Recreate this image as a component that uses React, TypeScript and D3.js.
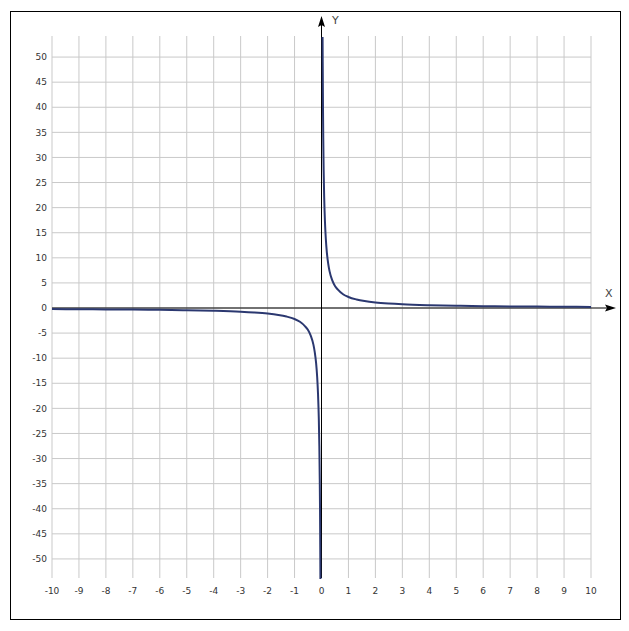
import React from "react";
import * as d3 from "d3";

const xTicks = [-10, -9, -8, -7, -6, -5, -4, -3, -2, -1, 0, 1, 2, 3, 4, 5, 6, 7, 8, 9, 10];
const yTicks = [-50, -45, -40, -35, -30, -25, -20, -15, -10, -5, 0, 5, 10, 15, 20, 25, 30, 35, 40, 45, 50];

// branch for x > 0
const posX = [0.04, 0.045, 0.055, 0.065, 0.08, 0.1, 0.13, 0.16, 0.2, 0.25, 0.3, 0.4, 0.5, 0.6, 0.8, 1, 1.3, 1.6, 2, 2.5, 3, 4, 5, 6, 7, 8, 9, 10];
const posY = [54, 49, 40, 34, 27.5, 22, 17, 13.8, 11, 8.8, 7.3, 5.5, 4.4, 3.7, 2.75, 2.2, 1.7, 1.38, 1.1, 0.88, 0.73, 0.55, 0.44, 0.37, 0.31, 0.28, 0.24, 0.22];
// branch for x < 0
const negX = [-10, -9, -8, -7, -6, -5, -4, -3, -2.5, -2, -1.6, -1.3, -1, -0.8, -0.6, -0.5, -0.4, -0.3, -0.25, -0.2, -0.16, -0.13, -0.1, -0.08, -0.065, -0.055, -0.045, -0.04];
const negY = [-0.22, -0.24, -0.28, -0.31, -0.37, -0.44, -0.55, -0.73, -0.88, -1.1, -1.38, -1.7, -2.2, -2.75, -3.7, -4.4, -5.5, -7.3, -8.8, -11, -13.8, -17, -22, -27.5, -34, -40, -49, -54];

export default function App() {
  const W = 629, H = 631;
  const x = d3.scaleLinear().domain([-10, 10]).range([52, 591]);
  const y = d3.scaleLinear().domain([-54, 54]).range([579, 37]);
  const line = d3
    .line<[number, number]>()
    .x((d) => x(d[0]))
    .y((d) => y(d[1]))
    .curve(d3.curveMonotoneX);
  const pos = posX.map((v, i) => [v, posY[i]] as [number, number]);
  const neg = negX.map((v, i) => [v, negY[i]] as [number, number]);
  const x0 = x(0), y0 = y(0);
  const font = "'DejaVu Sans', Verdana, sans-serif";
  const gridTop = 36, gridBottom = 578;
  return (
    <svg width={W} height={H} style={{ position: "absolute", left: 0, top: 0, background: "#fff" }}>
      <rect x={10.5} y={11.5} width={610} height={608} fill="#fff" stroke="#000" strokeWidth={1} />
      {xTicks.map((t) => (
        <line key={"gx" + t} x1={x(t)} x2={x(t)} y1={gridTop} y2={gridBottom} stroke="#c9c9c9" strokeWidth={1} />
      ))}
      {yTicks.map((t) => (
        <line key={"gy" + t} x1={x(-10)} x2={x(10)} y1={y(t)} y2={y(t)} stroke="#c9c9c9" strokeWidth={1} />
      ))}
      {/* axes */}
      <line x1={x(-10)} x2={608} y1={y0} y2={y0} stroke="#000" strokeWidth={1} />
      <path d={`M${616},${y0} L${605},${y0 - 3.5} L${607},${y0} L${605},${y0 + 3.5} Z`} fill="#000" />
      <line x1={x0} x2={x0} y1={gridBottom} y2={25} stroke="#000" strokeWidth={1} />
      <path d={`M${x0},${16} L${x0 - 3.5},${27} L${x0},${25} L${x0 + 3.5},${27} Z`} fill="#000" />
      <text x={332} y={24} fontFamily={font} fontSize={11} fill="#444">Y</text>
      <text x={605} y={297} fontFamily={font} fontSize={11} fill="#444">X</text>
      {/* curve */}
      <path d={line(neg) || ""} fill="none" stroke="#2b3870" strokeWidth={2} />
      <path d={line(pos) || ""} fill="none" stroke="#2b3870" strokeWidth={2} />
      {/* labels */}
      {yTicks.map((t) => (
        <text key={"ly" + t} x={47} y={y(t)} dy="0.35em" textAnchor="end" fontFamily={font} fontSize={9} fill="#333">
          {t}
        </text>
      ))}
      {xTicks.map((t) => (
        <text key={"lx" + t} x={x(t)} y={591} dy="0.35em" textAnchor="middle" fontFamily={font} fontSize={9} fill="#333">
          {t}
        </text>
      ))}
    </svg>
  );
}
